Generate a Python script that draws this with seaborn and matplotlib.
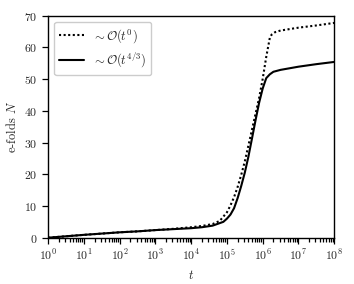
import numpy as np
import pandas as pd
import seaborn as sns
import matplotlib
matplotlib.use('Agg')
import matplotlib.pyplot as plt
from matplotlib.ticker import NullFormatter

# values (log10 t, e-folds N)
logt_slow = [0, 0.5, 1, 1.5, 2, 2.5, 3, 3.5, 4, 4.3, 4.6, 4.8, 5.0, 5.1, 5.2, 5.3,
             5.4, 5.5, 5.6, 5.7, 5.8, 5.9, 6.0, 6.1, 6.2, 6.25, 6.35, 6.5, 7.0, 7.5, 8.0]
n_slow = [0, 0.45, 0.9, 1.3, 1.7, 2.0, 2.4, 2.8, 3.3, 3.7, 4.3, 5.3, 8.0, 10.2, 12.8, 16.0,
          19.8, 24.0, 29.0, 34.0, 39.0, 44.0, 50.0, 57.0, 63.0, 64.0, 64.8, 65.3, 66.2, 66.9, 67.7]

logt_fast = [0, 0.5, 1, 1.5, 2, 2.5, 3, 3.5, 4, 4.3, 4.6, 4.8, 4.9, 5.0, 5.1, 5.2, 5.3,
             5.4, 5.5, 5.6, 5.7, 5.8, 5.9, 6.0, 6.1, 6.2, 6.3, 6.5, 7.0, 7.5, 8.0]
n_fast = [0, 0.45, 0.9, 1.3, 1.7, 2.0, 2.4, 2.7, 3.0, 3.3, 3.8, 4.6, 5.0, 6.0, 7.3, 9.3, 12.5,
          16.3, 20.5, 25.5, 31.2, 37.0, 42.5, 47.0, 50.3, 51.5, 52.3, 52.9, 53.9, 54.7, 55.4]

labels = [r'$\sim\mathcal{O}(t^0)$', r'$\sim\mathcal{O}(t^{4/3})$']

df = pd.concat([
    pd.DataFrame({'t': 10.0 ** np.array(logt_slow), 'N': n_slow, 'order': labels[0]}),
    pd.DataFrame({'t': 10.0 ** np.array(logt_fast), 'N': n_fast, 'order': labels[1]}),
])

sns.set_style('ticks')
plt.rcParams['font.family'] = 'serif'
plt.rcParams['font.serif'] = ['cmr10', 'DejaVu Serif']
plt.rcParams['mathtext.fontset'] = 'cm'
plt.rcParams['axes.formatter.use_mathtext'] = True
plt.rcParams['font.size'] = 9

fig = plt.figure(figsize=(3.54, 2.84), dpi=100)
ax = fig.add_axes([0.136, 0.163, 0.808, 0.782])

sns.lineplot(data=df, x='t', y='N', hue='order', style='order',
             palette=['black', 'black'], dashes=[(1, 1.2), ''],
             linewidth=1.5, ax=ax, sort=False)

ax.set_xscale('log')
ax.set_xlim(1, 1e8)
ax.set_ylim(0, 70)
ax.set_xticks([10.0 ** k for k in range(9)])
minor = [m * 10.0 ** k for k in range(8) for m in range(2, 10)]
ax.set_xticks(minor, minor=True)
ax.xaxis.set_minor_formatter(NullFormatter())
ax.set_yticks(range(0, 71, 10))
ax.set_xlabel(r'$t$', fontsize=9)
ax.set_ylabel(r'e-folds $N$', fontsize=9)
ax.tick_params(which='major', labelsize=8.5, color='black', length=4, width=0.9)
ax.tick_params(axis='x', which='minor', length=3, width=0.9, color='black')
for s in ax.spines.values():
    s.set_visible(True)
    s.set_linewidth(1.0)
    s.set_color('black')

leg = ax.legend(loc='upper left', handlelength=2.0, handletextpad=0.6, fontsize=9,
                frameon=True, fancybox=True, edgecolor='#cccccc', framealpha=1)
leg.set_title(None)

fig.savefig('out.png', dpi=100)
